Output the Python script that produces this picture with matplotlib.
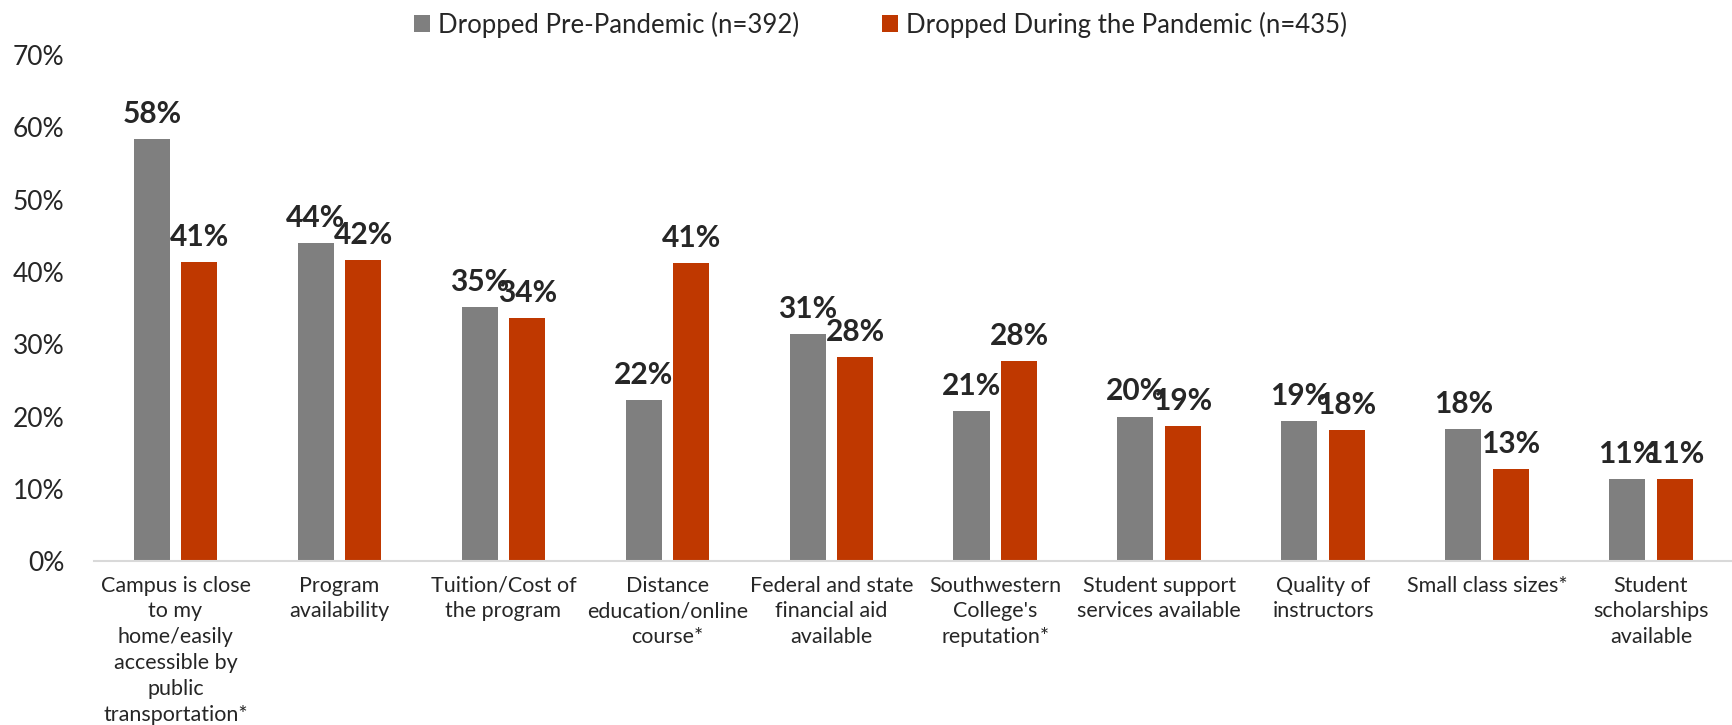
import matplotlib
matplotlib.use('Agg')
import matplotlib.pyplot as plt
import numpy as np

categories = [
    'Campus is close\nto my\nhome/easily\naccessible by\npublic\ntransportation*',
    'Program\navailability',
    'Tuition/Cost of\nthe program',
    'Distance\neducation/online\ncourse*',
    'Federal and state\nfinancial aid\navailable',
    "Southwestern\nCollege's\nreputation*",
    'Student support\nservices available',
    'Quality of\ninstructors',
    'Small class sizes*',
    'Student\nscholarships\navailable',
]
pre_pandemic = [58.4, 44.0, 35.1, 22.3, 31.4, 20.8, 20.0, 19.4, 18.3, 11.4]
during_pandemic = [41.4, 41.7, 33.6, 41.2, 28.2, 27.7, 18.7, 18.1, 12.8, 11.3]
series_names = ['Dropped Pre-Pandemic (n=392)', 'Dropped During the Pandemic (n=435)']

GRAY = '#7f7f7f'
RUST = '#bf3800'
TEXT = '#262626'

plt.rcParams['font.family'] = ['Lato', 'DejaVu Sans']

fig = plt.figure(figsize=(17.33, 7.25), dpi=100)
ax = fig.add_axes([0.054, 0.226, 0.946, 0.698])

x = np.arange(len(categories))
w = 0.22
off = 0.145
b1 = ax.bar(x - off, pre_pandemic, w, color=GRAY, label=series_names[0])
b2 = ax.bar(x + off, during_pandemic, w, color=RUST, label=series_names[1])

for bars, vals in ((b1, pre_pandemic), (b2, during_pandemic)):
    for bar, v in zip(bars, vals):
        ax.annotate(f'{v:.0f}%', (bar.get_x() + bar.get_width() / 2, v),
                    xytext=(0, 8), textcoords='offset points',
                    ha='center', va='bottom', fontsize=21.5, fontweight='bold',
                    color=TEXT)

ax.set_xlim(-0.5, len(categories) - 0.5)
ax.set_ylim(0, 70)
ax.set_yticks(range(0, 71, 10))
ax.set_yticklabels([f'{t}%' for t in range(0, 71, 10)], fontsize=19)
ax.set_xticks(x)
ax.set_xticklabels(categories, linespacing=1.36, fontsize=15.5)
ax.tick_params(axis='both', length=0, colors=TEXT)
ax.tick_params(axis='y', pad=21)
ax.tick_params(axis='x', pad=10.5)

for side in ('top', 'right', 'left'):
    ax.spines[side].set_visible(False)
ax.spines['bottom'].set_color('#d9d9d9')
ax.spines['bottom'].set_linewidth(1.5)

fig.legend(handles=[b1, b2], loc='center', bbox_to_anchor=(0.508, 0.966),
           ncol=2, frameon=False, fontsize=18.5, handlelength=0.65,
           handleheight=0.65, handletextpad=0.3, columnspacing=3.2,
           labelcolor=TEXT)

fig.savefig('out.png', dpi=100)
